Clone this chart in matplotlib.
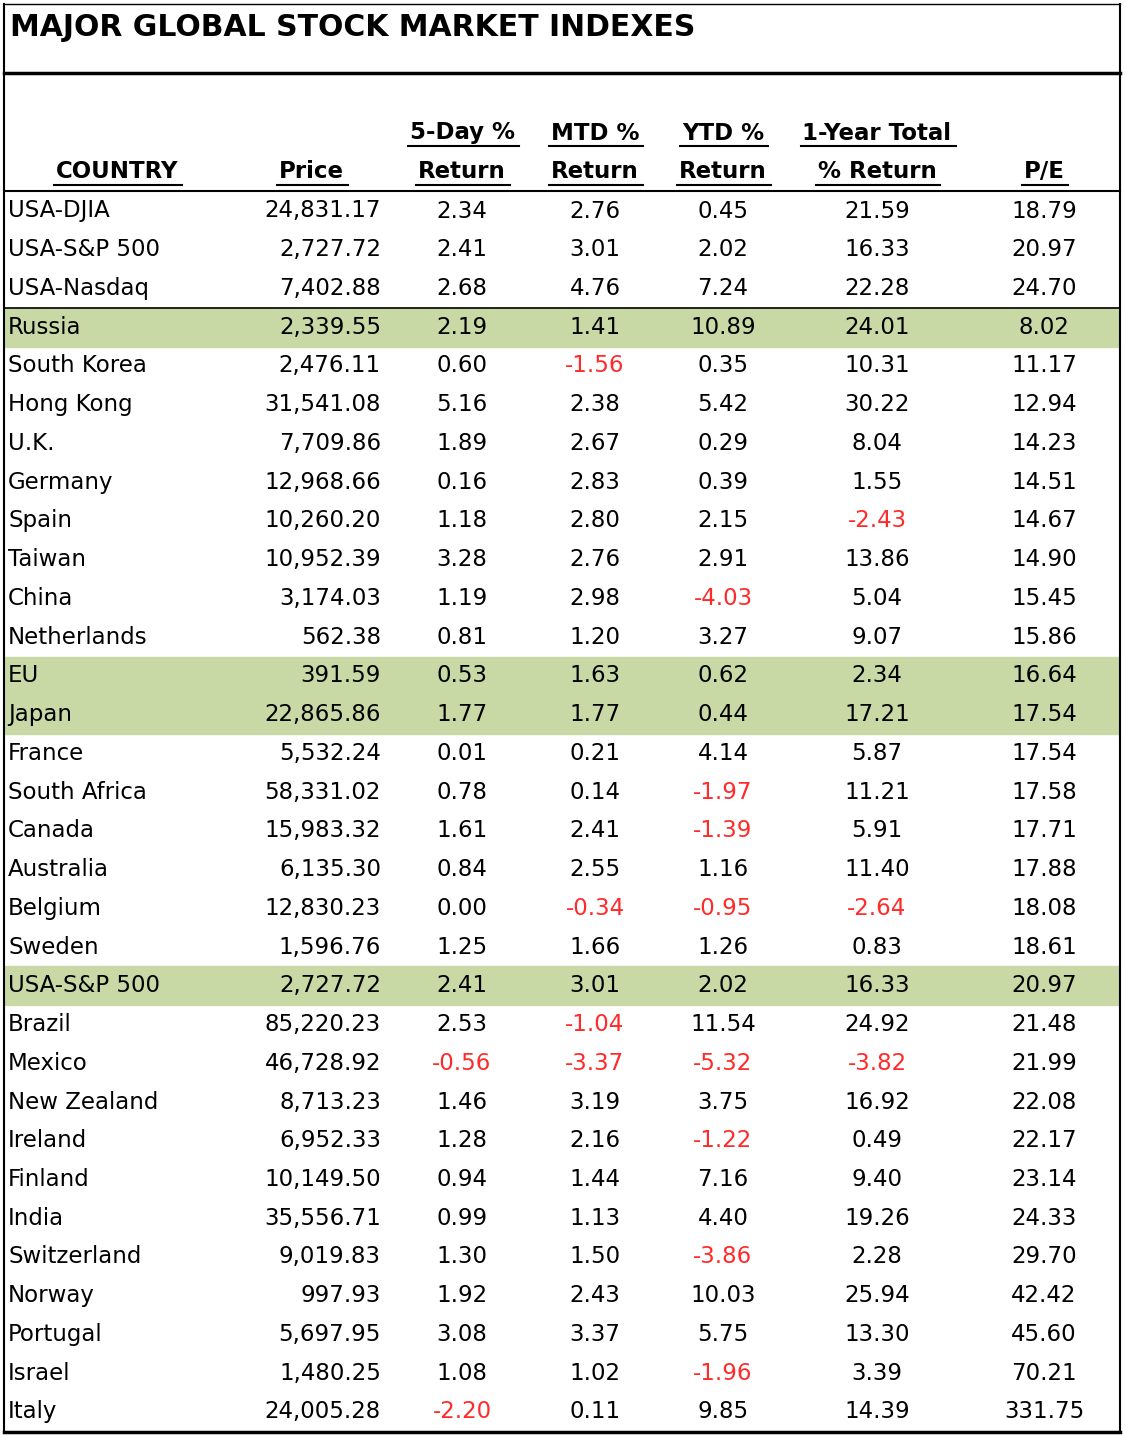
import matplotlib.pyplot as plt
from matplotlib.lines import Line2D
from matplotlib.patches import Rectangle

countries = ["USA-DJIA", "USA-S&P 500", "USA-Nasdaq", "Russia", "South Korea", "Hong Kong", "U.K.",
             "Germany", "Spain", "Taiwan", "China", "Netherlands", "EU", "Japan", "France",
             "South Africa", "Canada", "Australia", "Belgium", "Sweden", "USA-S&P 500", "Brazil",
             "Mexico", "New Zealand", "Ireland", "Finland", "India", "Switzerland", "Norway",
             "Portugal", "Israel", "Italy"]
price = [24831.17, 2727.72, 7402.88, 2339.55, 2476.11, 31541.08, 7709.86, 12968.66, 10260.20,
         10952.39, 3174.03, 562.38, 391.59, 22865.86, 5532.24, 58331.02, 15983.32, 6135.30,
         12830.23, 1596.76, 2727.72, 85220.23, 46728.92, 8713.23, 6952.33, 10149.50, 35556.71,
         9019.83, 997.93, 5697.95, 1480.25, 24005.28]
day5 = [2.34, 2.41, 2.68, 2.19, 0.60, 5.16, 1.89, 0.16, 1.18, 3.28, 1.19, 0.81, 0.53, 1.77, 0.01,
        0.78, 1.61, 0.84, 0.00, 1.25, 2.41, 2.53, -0.56, 1.46, 1.28, 0.94, 0.99, 1.30, 1.92, 3.08,
        1.08, -2.20]
mtd = [2.76, 3.01, 4.76, 1.41, -1.56, 2.38, 2.67, 2.83, 2.80, 2.76, 2.98, 1.20, 1.63, 1.77, 0.21,
       0.14, 2.41, 2.55, -0.34, 1.66, 3.01, -1.04, -3.37, 3.19, 2.16, 1.44, 1.13, 1.50, 2.43, 3.37,
       1.02, 0.11]
ytd = [0.45, 2.02, 7.24, 10.89, 0.35, 5.42, 0.29, 0.39, 2.15, 2.91, -4.03, 3.27, 0.62, 0.44, 4.14,
       -1.97, -1.39, 1.16, -0.95, 1.26, 2.02, 11.54, -5.32, 3.75, -1.22, 7.16, 4.40, -3.86, 10.03,
       5.75, -1.96, 9.85]
year1 = [21.59, 16.33, 22.28, 24.01, 10.31, 30.22, 8.04, 1.55, -2.43, 13.86, 5.04, 9.07, 2.34,
         17.21, 5.87, 11.21, 5.91, 11.40, -2.64, 0.83, 16.33, 24.92, -3.82, 16.92, 0.49, 9.40,
         19.26, 2.28, 25.94, 13.30, 3.39, 14.39]
pe = [18.79, 20.97, 24.70, 8.02, 11.17, 12.94, 14.23, 14.51, 14.67, 14.90, 15.45, 15.86, 16.64,
      17.54, 17.54, 17.58, 17.71, 17.88, 18.08, 18.61, 20.97, 21.48, 21.99, 22.08, 22.17, 23.14,
      24.33, 29.70, 42.42, 45.60, 70.21, 331.75]
highlight = [3, 12, 13, 20]

W, H = 1126, 1438
fig = plt.figure(figsize=(W / 100, H / 100), dpi=100)
ax = fig.add_axes([0, 0, 1, 1])
ax.set_xlim(0, W)
ax.set_ylim(H, 0)
ax.axis("off")

GREEN = "#c8d9a6"
RED = "#ff2a2a"
FS = 16.5
y0, dy = 211, 38.74

# рамка
ax.add_line(Line2D([4, 4], [4, 1432], color="black", lw=1.5))
ax.add_line(Line2D([1120, 1120], [4, 1432], color="black", lw=1.5))
ax.add_line(Line2D([4, 1120], [4, 4], color="black", lw=1))
ax.add_line(Line2D([4, 1120], [73, 73], color="black", lw=2.5))
ax.add_line(Line2D([4, 1120], [1432, 1432], color="black", lw=2.5))
ax.text(10, 28, "MAJOR GLOBAL STOCK MARKET INDEXES", fontsize=21.5, fontweight="bold",
        va="center", ha="left")

for i in highlight:
    ax.add_patch(Rectangle((5, y0 + i * dy - dy / 2), 1114, dy, color=GREEN, zorder=0))
ax.add_line(Line2D([4, 1120], [191, 191], color="black", lw=1.5))
ax.add_line(Line2D([4, 1120], [y0 + 2.5 * dy, y0 + 2.5 * dy], color="black", lw=1.2))

# заголовки
headers = [(117, ["", "COUNTRY"]), (311, ["", "Price"]), (462, ["5-Day %", "Return"]),
           (595, ["MTD %", "Return"]), (723, ["YTD %", "Return"]),
           (877, ["1-Year Total", "% Return"]), (1044, ["", "P/E"])]
hdr_texts = []
for x, lines in headers:
    for yy, s in zip([133, 172], lines):
        if s:
            hdr_texts.append(ax.text(x, yy, s, fontsize=FS, fontweight="bold", ha="center",
                                     va="center"))

fmt = lambda v: f"{v:.2f}"
cols = [(462, day5), (595, mtd), (723, ytd), (877, year1), (1044, pe)]
for i, c in enumerate(countries):
    y = y0 + i * dy
    ax.text(8, y, c, fontsize=FS, ha="left", va="center")
    ax.text(381, y, f"{price[i]:,.2f}", fontsize=FS, ha="right", va="center")
    for x, vals in cols:
        v = vals[i]
        ax.text(x, y, fmt(v), fontsize=FS, ha="center", va="center",
                color=RED if v < 0 else "black")

# подчёркивание заголовков
fig.canvas.draw()
r = fig.canvas.get_renderer()
inv = ax.transData.inverted()
for t in hdr_texts:
    bb = t.get_window_extent(r)
    (xa, ya), (xb, yb) = inv.transform([(bb.x0, bb.y0), (bb.x1, bb.y1)])
    ax.add_line(Line2D([xa - 2, xb + 4], [ya + 1, ya + 1], color="black", lw=1.5))

fig.savefig("out.png", dpi=100, facecolor="white")
